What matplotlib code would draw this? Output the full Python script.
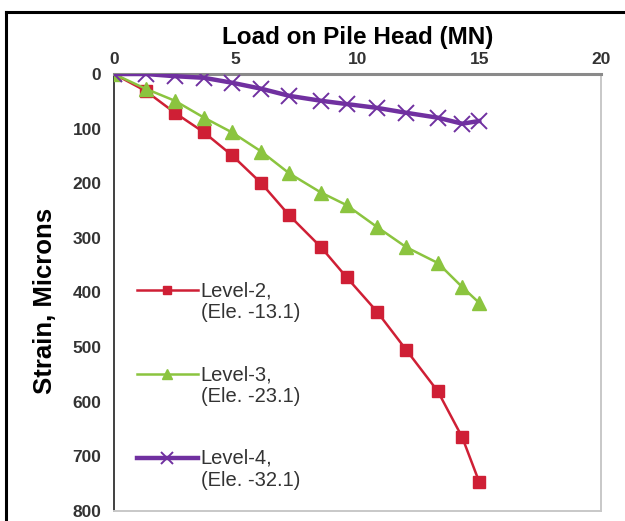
import numpy as np
import matplotlib
matplotlib.use("Agg")
import matplotlib.pyplot as plt
from matplotlib.lines import Line2D
from matplotlib.legend_handler import HandlerLine2D
from matplotlib.transforms import Affine2D

plt.rcParams['font.family'] = ['Liberation Sans', 'DejaVu Sans']

# load on pile head (MN)
load = [0, 1.3, 2.5, 3.7, 4.85, 6.05, 7.2, 8.5, 9.55, 10.8, 12.0, 13.3, 14.3, 15.0]

# strain (microns) at each gauge level
level2 = [0, 31, 71, 107, 149, 200, 259, 317, 372, 435, 505, 581, 665, 747]
level3 = [0, 27, 49, 80, 107, 142, 182, 217, 240, 280, 317, 346, 390, 419]
level4 = [0, 0, 4, 7, 16, 27, 40, 49, 55, 62, 71, 80, 91, 86]

labels = ["Level-2,\n(Ele. -13.1)", "Level-3,\n(Ele. -23.1)", "Level-4,\n(Ele. -32.1)"]
x_ticks = [0, 5, 10, 15, 20]
y_ticks = [0, 100, 200, 300, 400, 500, 600, 700, 800]


class FirstLineHandler(HandlerLine2D):
    # puts the legend line level with the first line of a two-line label
    def __init__(self, dy, **kw):
        super().__init__(**kw)
        self.dy = dy

    def create_artists(self, legend, orig_handle, xdescent, ydescent,
                       width, height, fontsize, trans):
        shift = Affine2D().translate(0, self.dy * legend.figure.dpi / 72.0)
        return super().create_artists(legend, orig_handle, xdescent, ydescent,
                                      width, height, fontsize, trans + shift)


fig = plt.figure(figsize=(6.25, 5.21), dpi=100)
ax = fig.add_axes([114 / 625, 1 - 511 / 521, 487 / 625, 437 / 521])

ax.plot(load, level2, color='#CF1F35', lw=1.8, marker='s', ms=8.5,
        mec='#CF1F35', label=labels[0], zorder=3)
ax.plot(load, level3, color='#8BC43F', lw=1.8, marker='^', ms=9.5,
        mec='#8BC43F', label=labels[1], zorder=4)
ax.plot(load, level4, color='#7030A0', lw=3.2, marker='x', ms=12,
        mew=1.4, label=labels[2], zorder=5)

ax.set_xlim(0, 20)
ax.set_ylim(800, 0)
ax.set_xticks(x_ticks)
ax.set_yticks(y_ticks)
ax.xaxis.tick_top()
ax.xaxis.set_label_position('top')
ax.tick_params(length=0, labelsize=12.5, labelcolor='#333333')
ax.tick_params(axis='x', pad=5)
ax.tick_params(axis='y', pad=9)
for lab in ax.get_xticklabels() + ax.get_yticklabels():
    lab.set_fontweight('bold')

ax.set_xlabel("Load on Pile Head (MN)", fontsize=17.5, fontweight='bold', labelpad=6)
ax.set_ylabel("Strain, Microns", fontsize=18.5, fontweight='bold')
ax.yaxis.set_label_coords(-0.117, 0.48)

ax.spines['top'].set_color('#8a8a8a')
ax.spines['top'].set_linewidth(2.2)
ax.spines['left'].set_color('#404040')
ax.spines['left'].set_linewidth(1.4)
for s in ['right', 'bottom']:
    ax.spines[s].set_color('#c8c8c8')
    ax.spines[s].set_linewidth(1.4)

leg = ax.legend(loc='upper left', bbox_to_anchor=(0.027, 0.549), frameon=False,
                fontsize=14.5, handlelength=3.0, handletextpad=0.15,
                labelspacing=2.13, borderpad=0, markerscale=0.7,
                handler_map={Line2D: FirstLineHandler(8.8)})
for t in leg.get_texts():
    t.set_color('#333333')

# black frame of the figure box
fig.add_artist(Line2D([6 / 625, 1], [1 - 12 / 521] * 2, color='black', lw=2.2))
fig.add_artist(Line2D([6 / 625] * 2, [0, 1 - 12 / 521], color='black', lw=2.2))

fig.savefig("out.png", dpi=100)
